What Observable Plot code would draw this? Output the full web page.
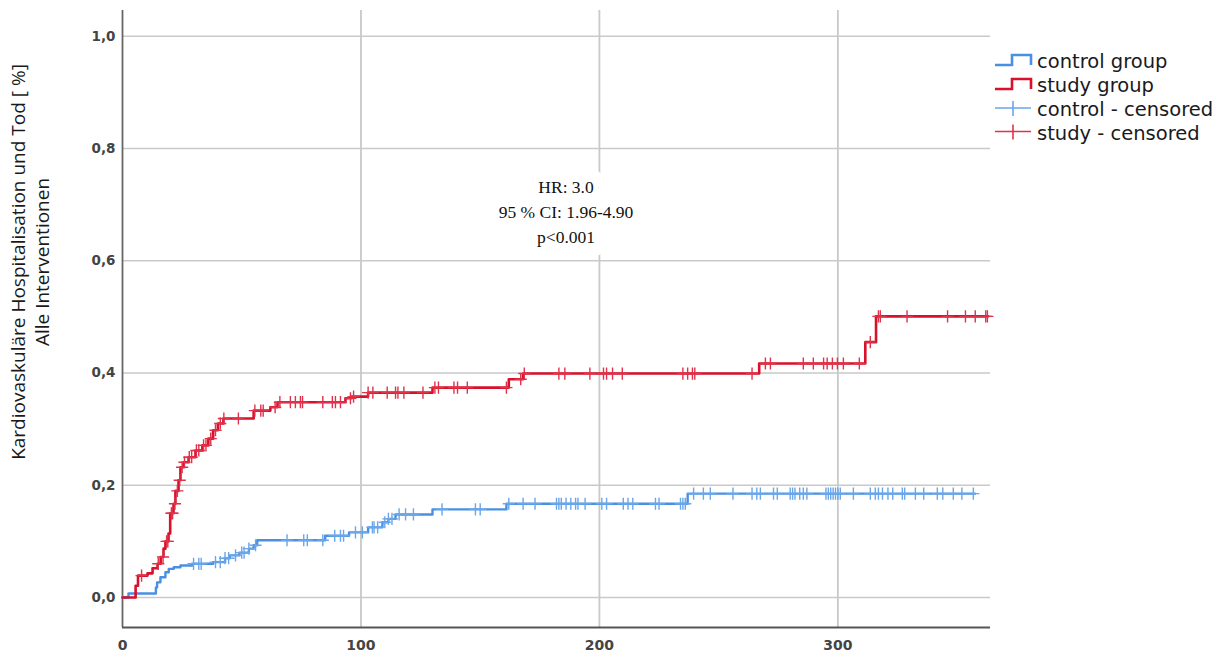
<!DOCTYPE html>
<html>
<head>
<meta charset="utf-8">
<script src="https://cdn.jsdelivr.net/npm/d3@7"></script>
<script src="https://cdn.jsdelivr.net/npm/@observablehq/plot@0.6"></script>
<style>
  html, body { margin: 0; padding: 0; background: #fff; }
  #wrap { position: relative; width: 1224px; height: 658px; overflow: hidden; }
  #ylab { position: absolute; left: 0; top: 0; width: 1224px; height: 658px; pointer-events: none; }
  #legend { position: absolute; left: 0; top: 0; pointer-events: none; }
</style>
</head>
<body>
<div id="wrap"></div>
<script>
// ---- data ----
const studyTimes   = [0, 5.5, 6.5, 10.5, 12.6, 14.7, 16, 17.2, 18, 19.3, 20, 21.4, 22.2, 23.5, 24.3, 25.6, 27.7, 30.6, 33.5, 36, 38, 40, 42.3, 55, 62, 65, 93.5, 96, 103, 130, 162, 168, 267, 311.5, 316, 363];
const studyValues  = [0, 0.021, 0.039, 0.043, 0.052, 0.06, 0.072, 0.087, 0.1, 0.114, 0.15, 0.167, 0.19, 0.209, 0.232, 0.241, 0.25, 0.262, 0.271, 0.283, 0.298, 0.31, 0.319, 0.333, 0.339, 0.348, 0.355, 0.358, 0.365, 0.374, 0.389, 0.399, 0.417, 0.455, 0.501, 0.501];

const controlTimes  = [0, 2.5, 14, 14.5, 15.9, 18, 19.4, 21.5, 24.3, 29.2, 38, 43, 45, 49, 53, 55, 56.5, 85, 95, 103, 109, 111.5, 114.5, 130, 161, 237, 357.5];
const controlValues = [0, 0.007, 0.018, 0.027, 0.036, 0.045, 0.051, 0.054, 0.057, 0.06, 0.063, 0.07, 0.075, 0.08, 0.087, 0.093, 0.102, 0.11, 0.116, 0.125, 0.134, 0.14, 0.148, 0.157, 0.167, 0.185, 0.185];

const studyCensored = [8, 15, 17, 18.5, 19, 20.5, 21, 22, 23, 24, 25, 26, 28, 29, 31, 32, 34, 35, 37, 39, 41, 42.5, 48.6, 55.5, 58, 59, 64, 66, 70.4, 72.5, 74.6, 75.5, 84, 88, 89.3, 91.4, 95.6, 96.9, 103, 105, 111, 114.5, 115.5, 118, 126, 131, 132.5, 139, 140.5, 144.6, 161, 167, 168.5, 183, 185.5, 196, 201.7, 203, 205.5, 209.6, 235, 237, 239, 240, 264, 269.6, 271.7, 285.5, 289.7, 294, 295.5, 297.7, 299.8, 302.3, 309, 313.6, 317, 317.8, 329, 346, 353.5, 357.6, 362, 362.7];
const controlCensored = [29.8, 32, 33, 39, 41, 43, 44.5, 47.4, 50, 51, 53, 55.8, 69, 76, 77.5, 84, 89, 91.4, 92.7, 97.7, 100.6, 104.8, 105.5, 107, 110, 111.5, 113, 116, 118.7, 122, 134, 148, 150, 162, 168, 173, 182, 183, 184, 186, 188, 190, 191, 194, 201, 203, 210, 212, 214, 223.5, 225, 234, 235, 236, 239.5, 243.6, 246.5, 256, 264, 266, 267.5, 273, 274.6, 280, 281, 282, 284, 285.5, 287, 295, 296, 297, 298, 299, 300, 301, 306.5, 313.6, 315.7, 317, 318.7, 321, 323, 327, 328, 332.5, 336, 341.7, 344, 348.4, 352, 356.8];

const xTicks = [0, 100, 200, 300];
const yTicks = [0, 0.2, 0.4, 0.6, 0.8, 1.0];
const groupNames = ["control group", "study group", "control - censored", "study - censored"];
const annotationLines = ["HR: 3.0", "95 % CI: 1.96-4.90", "p<0.001"];
const yLabelLines = ["Kardiovaskuläre Hospitalisation und Tod [ %]", "Alle Interventionen"];

// ---- styling ----
const RED = "#d8102a";
const BLUE = "#4a90e2";
const RED_C = "#e0324a";
const BLUE_C = "#6aa6ea";
const GRID = "#c9c9c9";
const X_DOMAIN = [0, 364];
const Y_DOMAIN = [-0.0535, 1.046];

function stepAt(times, values, t) {
  let v = values[0];
  for (let i = 0; i < times.length; i++) { if (times[i] <= t) v = values[i]; else break; }
  return v;
}

const study = studyTimes.map((t, i) => ({t, v: studyValues[i]}));
const control = controlTimes.map((t, i) => ({t, v: controlValues[i]}));
const studyC = studyCensored.map(t => ({t, v: stepAt(studyTimes, studyValues, t)}));
const controlC = controlCensored.map(t => ({t, v: stepAt(controlTimes, controlValues, t)}));

const fmt = d => d.toFixed(1).replace(".", ",");

const chart = Plot.plot({
  width: 1224,
  height: 658,
  marginLeft: 122,
  marginRight: 234,
  marginTop: 10,
  marginBottom: 31,
  x: {domain: X_DOMAIN},
  y: {domain: Y_DOMAIN},
  style: {background: "#fff", fontFamily: "DejaVu Sans"},
  marks: [
    Plot.gridY(yTicks, {stroke: GRID, strokeOpacity: 1, strokeWidth: 1.5}),
    Plot.gridX(xTicks.slice(1), {stroke: GRID, strokeOpacity: 1, strokeWidth: 1.8}),
    Plot.text([annotationLines.join("\n")], {
      x: 186, y: 0.69, text: d => d, textAnchor: "middle", lineAnchor: "middle",
      lineHeight: 1.43, fontFamily: "Liberation Serif", fontSize: 17.5, fill: "#111",
      stroke: "#fff", strokeWidth: 26, strokeLinejoin: "round"
    }),
    Plot.ruleX([X_DOMAIN[0]], {stroke: "#666", strokeWidth: 1.8}),
    Plot.ruleY([Y_DOMAIN[0]], {stroke: "#555", strokeWidth: 2}),
    Plot.axisY(yTicks, {label: null, tickSize: 0, tickPadding: 7, tickFormat: fmt, fontSize: 13.5, fontWeight: "bold", fill: "#444"}),
    Plot.axisX(xTicks, {label: null, tickSize: 0, tickPadding: 13, fontSize: 14, fontWeight: "bold", fill: "#444"}),
    Plot.line(control, {x: "t", y: "v", curve: "step-after", stroke: BLUE, strokeWidth: 2.4}),
    Plot.line(study, {x: "t", y: "v", curve: "step-after", stroke: RED, strokeWidth: 2.6}),
    Plot.dot(controlC, {x: "t", y: "v", symbol: "plus", r: 4, stroke: BLUE_C, strokeWidth: 1.4}),
    Plot.dot(studyC, {x: "t", y: "v", symbol: "plus", r: 4, stroke: RED_C, strokeWidth: 1.4})
  ]
});

const wrap = document.getElementById("wrap");
wrap.appendChild(chart);

// ---- y-axis title (two rotated lines) ----
const NS = "http://www.w3.org/2000/svg";
const ylab = document.createElementNS(NS, "svg");
ylab.setAttribute("id", "ylab");
ylab.setAttribute("width", 1224);
ylab.setAttribute("height", 658);
const ylabX = [18, 42];
yLabelLines.forEach((s, i) => {
  const t = document.createElementNS(NS, "text");
  t.setAttribute("transform", `translate(${ylabX[i]},262) rotate(-90)`);
  t.setAttribute("text-anchor", "middle");
  t.setAttribute("dominant-baseline", "central");
  t.setAttribute("font-family", "Open Sans");
  t.setAttribute("font-size", "19");
  t.setAttribute("fill", "#1a1a1a");
  t.textContent = s;
  ylab.appendChild(t);
});
wrap.appendChild(ylab);

// ---- legend ----
const leg = document.createElementNS(NS, "svg");
leg.setAttribute("id", "legend");
leg.setAttribute("width", 1224);
leg.setAttribute("height", 658);
const legColors = [BLUE, RED, BLUE_C, RED_C];
const baselines = [68, 92, 116, 139.5];
groupNames.forEach((name, i) => {
  const b = baselines[i];
  const p = document.createElementNS(NS, "path");
  if (i < 2) {
    p.setAttribute("d", `M995,${b-3}H1012V${b-13}H1031V${b-3}`);
    p.setAttribute("stroke-width", "2.6");
  } else {
    p.setAttribute("d", `M995,${b-8}H1031M1013,${b-15}V${b}`);
    p.setAttribute("stroke-width", "1.6");
  }
  p.setAttribute("stroke", legColors[i]);
  p.setAttribute("fill", "none");
  leg.appendChild(p);
  const t = document.createElementNS(NS, "text");
  t.setAttribute("x", 1037);
  t.setAttribute("y", b);
  t.setAttribute("font-family", "DejaVu Sans");
  t.setAttribute("font-size", "19.5");
  t.setAttribute("fill", "#1a1a1a");
  t.textContent = name;
  leg.appendChild(t);
});
wrap.appendChild(leg);
</script>
</body>
</html>
